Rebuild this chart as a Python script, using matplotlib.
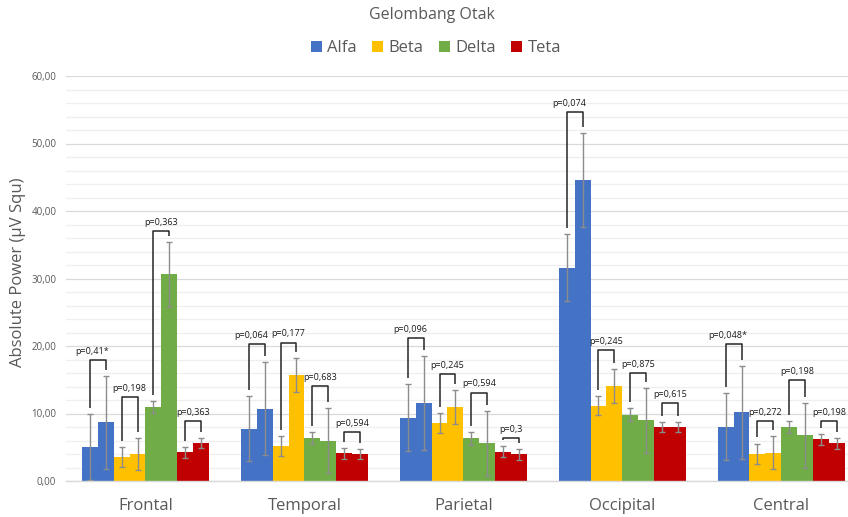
import matplotlib
matplotlib.use("Agg")
import matplotlib.pyplot as plt
from matplotlib.patches import Patch
from matplotlib.ticker import MultipleLocator, FuncFormatter
import numpy as np

plt.rcParams['font.family'] = ['Open Sans', 'DejaVu Sans']

regions = ['Frontal', 'Temporal', 'Parietal', 'Occipital', 'Central']
waves = ['Alfa', 'Beta', 'Delta', 'Teta']

# Two measurements per wave band and region, with their error values
alfa_1 = [5.0, 7.75, 9.4, 31.6, 8.05]
alfa_1_err = [4.9, 4.85, 4.95, 4.95, 4.95]
alfa_2 = [8.7, 10.7, 11.55, 44.6, 10.2]
alfa_2_err = [6.9, 6.9, 6.9, 6.9, 6.9]

beta_1 = [3.6, 5.2, 8.6, 11.15, 4.05]
beta_1_err = [1.5, 1.5, 1.45, 1.4, 1.5]
beta_2 = [4.0, 15.7, 10.95, 14.1, 4.2]
beta_2_err = [2.4, 2.5, 2.5, 2.5, 2.45]

delta_1 = [11.0, 6.4, 6.3, 9.8, 8.05]
delta_1_err = [0.9, 0.9, 0.95, 0.95, 0.9]
delta_2 = [30.6, 6.0, 5.6, 9.0, 6.8]
delta_2_err = [4.8, 4.75, 4.8, 4.8, 4.8]

teta_1 = [4.25, 4.1, 4.35, 8.05, 6.2]
teta_1_err = [0.8, 0.8, 0.8, 0.75, 0.8]
teta_2 = [5.6, 3.95, 3.95, 8.05, 5.6]
teta_2_err = [0.7, 0.75, 0.8, 0.75, 0.8]

# p-values shown above each pair
p_alfa = ['0,41*', '0,064', '0,096', '0,074', '0,048*']
p_beta = ['0,198', '0,177', '0,245', '0,245', '0,272']
p_delta = ['0,363', '0,683', '0,594', '0,875', '0,198']
p_teta = ['0,363', '0,594', '0,3', '0,615', '0,198']

# heights of the comparison brackets
bracket_alfa = [17.9, 20.25, 21.2, 54.6, 20.25]
bracket_beta = [12.4, 20.5, 15.8, 19.4, 8.9]
bracket_delta = [37.0, 14.1, 13.1, 15.95, 14.9]
bracket_teta = [8.9, 7.2, 6.4, 11.6, 8.9]

colors = ['#4472C4', '#FFC000', '#70AD47', '#C00000']
text_grey = '#595959'

series = [
    (alfa_1, alfa_1_err, alfa_2, alfa_2_err, p_alfa, bracket_alfa),
    (beta_1, beta_1_err, beta_2, beta_2_err, p_beta, bracket_beta),
    (delta_1, delta_1_err, delta_2, delta_2_err, p_delta, bracket_delta),
    (teta_1, teta_1_err, teta_2, teta_2_err, p_teta, bracket_teta),
]
# horizontal nudge (points) of the p-value labels per wave band
label_shift = [-4, 0, 0, 0]

fig = plt.figure(figsize=(8.48, 5.17), dpi=100)
ax = fig.add_axes([66 / 848, 36 / 517, 1 - 66 / 848, 405 / 517])

x = np.arange(len(regions))
w = 0.1
err_kw = dict(ecolor='#8c8c8c', elinewidth=1.0, capsize=2.5, capthick=1.0)

for k, (v1, e1, v2, e2, pv, br) in enumerate(series):
    pos1 = x + (2 * k - 3.5) * w
    pos2 = x + (2 * k - 2.5) * w
    ax.bar(pos1, v1, w, yerr=e1, color=colors[k], error_kw=err_kw, zorder=2)
    ax.bar(pos2, v2, w, yerr=e2, color=colors[k], error_kw=err_kw, zorder=2)
    for i in range(len(regions)):
        top = br[i]
        left_end = v1[i] + e1[i] + 0.9
        right_end = v2[i] + e2[i] + 0.9
        ax.plot([pos1[i], pos1[i], pos2[i], pos2[i]],
                [left_end, top, top, right_end],
                color='#262626', lw=1.1, zorder=3, solid_capstyle='butt')
        ax.annotate('p=' + pv[i], xy=((pos1[i] + pos2[i]) / 2, top),
                    xytext=(label_shift[k], 3), textcoords='offset points',
                    ha='center', va='bottom', fontsize=6.5, color='#1a1a1a',
                    zorder=4)

ax.set_xlim(-0.5, 4.42)
ax.set_ylim(0, 60)
ax.yaxis.set_major_locator(MultipleLocator(10))
ax.yaxis.set_minor_locator(MultipleLocator(2))
ax.yaxis.set_major_formatter(FuncFormatter(lambda v, _: f'{v:.2f}'.replace('.', ',')))
ax.grid(axis='y', which='major', color='#d9d9d9', lw=0.9, zorder=0)
ax.grid(axis='y', which='minor', color='#efefef', lw=0.9, zorder=0)
ax.set_axisbelow(True)

ax.set_xticks(x)
ax.set_xticklabels(regions, fontsize=12, color=text_grey)
ax.tick_params(axis='x', length=0, pad=12)
ax.tick_params(axis='y', which='both', length=0, pad=7, labelsize=7, labelcolor=text_grey)
for side in ['top', 'right', 'left']:
    ax.spines[side].set_visible(False)
ax.spines['bottom'].set_color('#d9d9d9')
ax.spines['bottom'].set_linewidth(1.0)

fig.text(18 / 848, 1 - 272 / 517, 'Absolute Power (µV Squ)', rotation=90,
         ha='center', va='center', fontsize=12, color=text_grey)
fig.text(432 / 848, 1 - 15 / 517, 'Gelombang Otak', ha='center', va='center',
         fontsize=11.5, color=text_grey)

handles = [Patch(facecolor=c, label=n) for c, n in zip(colors, waves)]
leg = fig.legend(handles=handles, loc='center', bbox_to_anchor=(436 / 848, 1 - 48 / 517),
                 ncol=4, frameon=False, fontsize=12, handlelength=0.65, handleheight=0.65,
                 handletextpad=0.35, columnspacing=0.9)
for t in leg.get_texts():
    t.set_color(text_grey)

fig.savefig('out.png', dpi=100)
